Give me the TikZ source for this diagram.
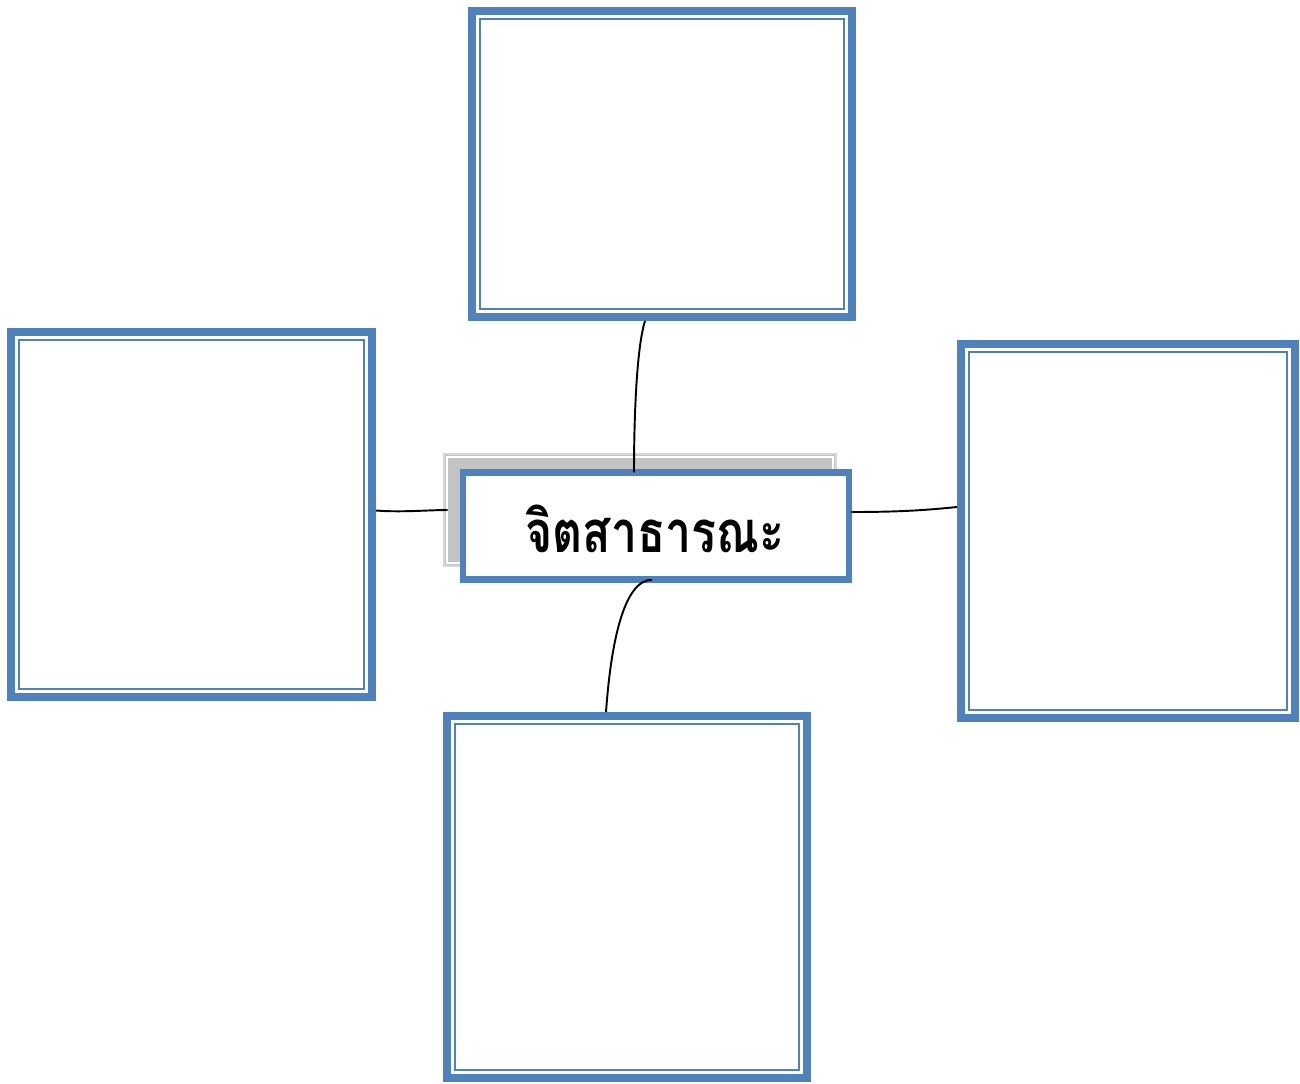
\documentclass[tikz,border=0pt]{standalone}
\usepackage{fontspec}
\usepackage{graphicx}
\newfontfamily\thaifont[Script=Thai]{Loma}
\usetikzlibrary{fit}
\definecolor{bl}{HTML}{4F81BD}
\definecolor{shgray}{HTML}{C3C3C3}
\definecolor{shedge}{HTML}{D6D6D6}
\tikzset{
  outerbox/.style={draw=bl, line width=4.5pt, inner sep=0pt, fill=white},
  innerline/.style={draw=bl, line width=1.4pt},
  centerbox/.style={draw=bl, line width=3.7pt, inner sep=0pt, fill=white},
  shadowbox/.style={draw=shedge, line width=1.6pt, fill=shgray, inner sep=0pt},
  conn/.style={draw=black, line width=1.1pt},
}
\begin{document}
\begin{tikzpicture}[x=0.02cm, y=-0.02cm]
\useasboundingbox (0,0) rectangle (1300,1083);
% outer boxes
\node[outerbox, fit={(472,11) (852,317)}] (top) {};
\node[outerbox, fit={(11,332) (372,697)}] (left) {};
\node[outerbox, fit={(961,344) (1295,718)}] (right) {};
\node[outerbox, fit={(447,716) (807,1078)}] (bottom) {};
% inner lines
\draw[innerline] (480,19) rectangle (844,309);
\draw[innerline] (19,340) rectangle (364,689);
\draw[innerline] (969,352) rectangle (1287,710);
\draw[innerline] (455,724) rectangle (799,1070);
% centre
\node[shadowbox, fit={(444,454) (836,566)}] (shadow) {};
\draw[white, line width=0.6pt] (447,457) rectangle (833,563);
\node[centerbox, fit={(463,472.5) (849,579.5)}] (center) {};
\node[font=\thaifont\bfseries\fontsize{33}{38}\selectfont, inner sep=0pt] (label) at (655,529) {\scalebox{0.8}[1]{จิตสาธารณะ}};
% connectors
\draw[conn] ([shift={(-17,0)}]top.south) .. controls +(-8,25) and +(0,-60) .. ([shift={(-22,3)}]center.north);
\draw[conn] ([shift={(0,-4)}]left.east) .. controls +(25,2) and +(-20,0) .. ([shift={(5,0)}]shadow.west);
\draw[conn] ([shift={(-1,-14)}]center.east) .. controls +(50,0) and +(-30,3) .. ([shift={(0,-24)}]right.west);
\draw[conn] ([shift={(-4,-3)}]center.south) .. controls +(-28,0) and +(5,-70) .. ([shift={(-21,0)}]bottom.north);
\end{tikzpicture}
\end{document}
